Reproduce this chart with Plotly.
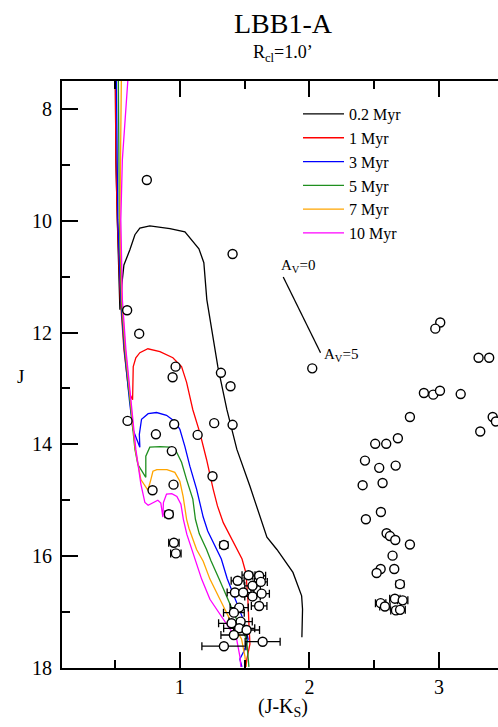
import plotly.graph_objects as go

# ---- isochrones: (J-Ks) colour and J magnitude -----------------------------
iso_02_jk = [0.502, 0.506, 0.517, 0.533, 0.537, 0.552, 0.568, 0.614, 0.653, 0.691, 0.768,
             0.923, 1.039, 1.147, 1.185, 1.208, 1.247, 1.293, 1.363, 1.440, 1.541, 1.618,
             1.672, 1.749, 1.873, 1.940, 1.947, 1.942]
iso_02_j = [7.50, 8.91, 9.98, 11.05, 11.59, 11.14, 10.79, 10.52, 10.25, 10.13, 10.09,
            10.14, 10.20, 10.50, 10.75, 11.41, 11.95, 12.61, 13.38, 14.09, 14.75, 15.29,
            15.66, 15.88, 16.29, 16.71, 16.95, 17.45]

iso_1_jk = [0.502, 0.506, 0.517, 0.541, 0.568, 0.606, 0.635, 0.635, 0.640, 0.660, 0.691,
            0.753, 0.846, 0.946, 1.013, 1.052, 1.100, 1.154, 1.206, 1.257, 1.290, 1.335,
            1.390, 1.438, 1.480, 1.510, 1.525, 1.533, 1.541, 1.517, 1.510]
iso_1_j = [7.50, 8.91, 9.98, 11.41, 12.30, 13.07, 13.20, 12.96, 12.61, 12.45, 12.36,
           12.29, 12.34, 12.45, 12.61, 12.89, 13.38, 13.79, 14.27, 14.80, 15.10, 15.40,
           15.65, 15.85, 16.05, 16.30, 16.77, 17.21, 17.57, 17.84, 17.98]

iso_3_jk = [0.510, 0.514, 0.521, 0.544, 0.571, 0.610, 0.637, 0.691, 0.687, 0.704, 0.755,
            0.820, 0.897, 0.961, 1.000, 1.039, 1.077, 1.129, 1.150, 1.180, 1.215, 1.270,
            1.320, 1.365, 1.425, 1.489, 1.527, 1.494, 1.463, 1.479]
iso_3_j = [7.50, 8.91, 9.98, 11.41, 12.30, 13.20, 13.73, 14.05, 13.82, 13.55, 13.45,
           13.43, 13.48, 13.59, 13.73, 14.04, 14.39, 14.80, 15.00, 15.30, 15.55, 15.80,
           16.05, 16.40, 16.77, 17.13, 17.48, 17.70, 17.84, 17.98]

iso_5_jk = [0.525, 0.529, 0.533, 0.548, 0.575, 0.614, 0.653, 0.676, 0.737, 0.737, 0.768,
            0.846, 0.923, 0.975, 1.013, 1.052, 1.100, 1.120, 1.150, 1.206, 1.240, 1.303,
            1.373, 1.438, 1.515, 1.527, 1.533]
iso_5_j = [7.50, 8.91, 9.98, 11.41, 12.30, 13.20, 14.09, 14.36, 14.59, 14.21, 14.05,
           14.04, 14.05, 14.14, 14.32, 14.63, 14.98, 15.34, 15.60, 15.88, 16.08, 16.41,
           16.77, 17.13, 17.48, 17.79, 17.98]

iso_7_jk = [0.548, 0.541, 0.537, 0.552, 0.579, 0.618, 0.656, 0.699, 0.753, 0.776, 0.792,
            0.822, 0.900, 0.961, 1.000, 1.025, 1.052, 1.070, 1.129, 1.180, 1.232, 1.309,
            1.386, 1.476, 1.502, 1.510]
iso_7_j = [7.50, 8.91, 9.98, 11.41, 12.30, 13.20, 14.09, 14.63, 14.82, 14.63, 14.48,
           14.45, 14.45, 14.50, 14.66, 14.93, 15.34, 15.50, 15.88, 16.09, 16.41, 16.77,
           17.13, 17.48, 17.79, 17.98]

iso_10_jk = [0.598, 0.575, 0.556, 0.544, 0.556, 0.583, 0.622, 0.660, 0.699, 0.730, 0.755,
             0.792, 0.830, 0.853, 0.869, 0.873, 0.897, 0.938, 0.977, 1.008, 1.027, 1.054,
             1.116, 1.168, 1.232, 1.334, 1.438, 1.463, 1.471]
iso_10_j = [7.50, 8.20, 8.91, 9.98, 11.41, 12.30, 13.20, 14.09, 14.71, 15.04, 15.09,
            15.04, 15.00, 15.05, 15.30, 15.04, 14.89, 14.88, 14.93, 15.07, 15.34, 15.61,
            16.05, 16.41, 16.77, 17.13, 17.48, 17.79, 17.98]

ages = ["0.2 Myr", "1 Myr", "3 Myr", "5 Myr", "7 Myr", "10 Myr"]
age_colors = ["#000000", "#ff0000", "#0000ff", "#1f8f1f", "#ffa500", "#ff00ff"]

# ---- reddening vector, A_V = 0 -> 5 -------------------------------------------
av_jk = [1.798, 2.086]
av_j = [11.005, 12.36]

# ---- stars without visible colour errors ------------------------------------
star_jk = [0.745, 1.407, 0.593, 0.686, 0.967, 0.944, 1.317, 1.391, 0.596, 0.956,
           0.815, 1.137, 1.265, 1.407, 0.938, 1.252, 0.951, 0.789, 2.022, 3.010,
           2.972, 3.306, 3.388, 2.884, 2.956, 3.008, 3.168, 3.415, 3.440, 3.319,
           2.776, 2.683, 2.508, 2.593, 2.429, 2.539, 2.666, 2.411, 2.565, 2.552,
           2.436, 2.596, 2.622, 2.663, 2.776, 2.642, 2.550, 2.519, 2.655]
star_j = [9.27, 10.595, 11.60, 12.02, 12.61, 12.80, 12.72, 12.96, 13.58, 13.64,
          13.82, 13.83, 13.62, 13.65, 14.12, 14.57, 14.72, 14.82, 12.64, 11.82,
          11.93, 12.45, 12.45, 13.08, 13.11, 13.04, 13.10, 13.51, 13.59, 13.77,
          13.51, 13.89, 13.99, 13.99, 14.29, 14.42, 14.38, 14.73, 14.69, 15.21,
          15.34, 15.59, 15.64, 15.71, 15.79, 15.99, 16.23, 16.30, 16.23]

# ---- fainter stars with (J-Ks) error bars -------------------------------------
err_jk = [0.915, 0.954, 0.969, 1.340, 2.699, 2.660, 2.720, 2.550, 2.583, 2.668,
          2.700, 1.530, 1.612, 1.446, 1.561, 1.625, 1.425, 1.489, 1.561, 1.631,
          1.612, 1.458, 1.417, 1.399, 1.469, 1.458, 1.515, 1.417, 1.639, 1.340]
err_j = [15.25, 15.76, 15.95, 15.80, 16.50, 16.76, 16.79, 16.84, 16.90, 16.97,
         16.96, 16.34, 16.35, 16.44, 16.53, 16.46, 16.65, 16.65, 16.72, 16.67,
         16.89, 16.92, 17.01, 17.20, 17.17, 17.29, 17.32, 17.41, 17.53, 17.61]
err_sig = [0.03, 0.04, 0.04, 0.03, 0.03, 0.04, 0.04, 0.04, 0.04, 0.04,
           0.04, 0.05, 0.05, 0.05, 0.06, 0.05, 0.06, 0.06, 0.06, 0.06,
           0.06, 0.07, 0.08, 0.10, 0.09, 0.12, 0.10, 0.10, 0.135, 0.17]

SERIF = "Liberation Serif, Times New Roman, serif"

fig = go.Figure()

iso_sets = [(iso_02_jk, iso_02_j), (iso_1_jk, iso_1_j), (iso_3_jk, iso_3_j),
            (iso_5_jk, iso_5_j), (iso_7_jk, iso_7_j), (iso_10_jk, iso_10_j)]
for name, col, (xs, ys) in zip(ages, age_colors, iso_sets):
    fig.add_trace(go.Scatter(x=xs, y=ys, mode="lines", name=name,
                             line=dict(color=col, width=1.3)))

fig.add_trace(go.Scatter(x=av_jk, y=av_j, mode="lines", showlegend=False,
                         line=dict(color="black", width=1.3)))

marker_style = dict(symbol="circle", size=9, color="white",
                    line=dict(color="black", width=1.4))
fig.add_trace(go.Scatter(x=star_jk, y=star_j, mode="markers", showlegend=False,
                         marker=marker_style))
fig.add_trace(go.Scatter(x=err_jk, y=err_j, mode="markers", showlegend=False,
                         marker=marker_style,
                         error_x=dict(type="data", array=err_sig, color="black",
                                      thickness=1.3, width=4)))

axis_common = dict(showgrid=False, zeroline=False, showline=True, linecolor="black",
                   linewidth=2, ticks="inside", ticklen=16, tickwidth=1.5,
                   tickcolor="black", tickfont=dict(family=SERIF, size=20, color="black"))

fig.update_layout(
    width=498, height=727,
    margin=dict(l=62, r=0, t=81, b=59),
    paper_bgcolor="white", plot_bgcolor="white",
    font=dict(family=SERIF, color="black"),
    xaxis=dict(range=[0.09, 3.456], tick0=0, dtick=1, mirror="ticks",
               minor=dict(dtick=0.5, ticks="inside", ticklen=8, tickwidth=1.5,
                          tickcolor="black"),
               **axis_common),
    yaxis=dict(range=[18, 7.5], tick0=0, dtick=2, ticklabelstandoff=4,
               minor=dict(dtick=1, ticks="inside", ticklen=8, tickwidth=1.5,
                          tickcolor="black"),
               **axis_common),
    yaxis2=dict(range=[18, 7.5], overlaying="y", side="right", anchor="x",
                tick0=0, dtick=2, ticks="inside", ticklen=10, tickwidth=1.5,
                tickcolor="black", showticklabels=False, showline=False,
                showgrid=False, zeroline=False,
                minor=dict(dtick=1, ticks="inside", ticklen=3, tickwidth=1.5,
                           tickcolor="black")),
    legend=dict(x=0.5413, y=0.9727, xanchor="left", yanchor="top",
                itemwidth=41,
                bgcolor="rgba(0,0,0,0)", borderwidth=0,
                font=dict(family=SERIF, size=16, color="black")),
    showlegend=True,
)

annotations = [
    dict(text="LBB1-A", xref="paper", yref="paper", x=0.508, y=1.0985,
         xanchor="center", yanchor="middle", showarrow=False,
         font=dict(family=SERIF, size=28)),
    dict(text="R<sub>cl</sub>=1.0’", xref="paper", yref="paper", x=0.508, y=1.0474,
         xanchor="center", yanchor="middle", showarrow=False,
         font=dict(family=SERIF, size=18)),
    dict(text="J", xref="paper", yref="paper", x=-0.0963, y=0.4974,
         xanchor="center", yanchor="middle", showarrow=False,
         font=dict(family=SERIF, size=19)),
    dict(text="(J-K<sub>S</sub>)", xref="paper", yref="paper", x=0.508, y=-0.0681,
         xanchor="center", yanchor="middle", showarrow=False,
         font=dict(family=SERIF, size=20)),
    dict(text="A<sub>V</sub>=0", xref="x", yref="y", x=av_jk[0], y=av_j[0],
         xanchor="left", yanchor="bottom", xshift=-4, yshift=0, showarrow=False,
         font=dict(family=SERIF, size=15)),
    dict(text="A<sub>V</sub>=5", xref="x", yref="y", x=av_jk[1], y=av_j[1],
         xanchor="left", yanchor="middle", xshift=1, yshift=-2, showarrow=False,
         font=dict(family=SERIF, size=15)),
]
fig.update_layout(annotations=annotations)

fig.write_html("out.html")
